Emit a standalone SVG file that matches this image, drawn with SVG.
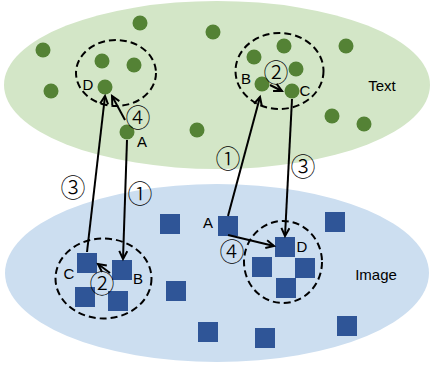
<svg xmlns="http://www.w3.org/2000/svg" width="430" height="370" viewBox="0 0 430 370">
<defs>
<style>
.dot{fill:#548235}
.sq{fill:#2f5597}
.lbl{font-family:"Liberation Sans",Arial,sans-serif;font-size:15px;fill:#000;text-anchor:middle}
.num{font-family:"Noto Sans CJK SC","DejaVu Sans",sans-serif;font-size:25px;font-weight:300;fill:#000;text-anchor:middle;dominant-baseline:central}
.dash{fill:none;stroke:#000;stroke-width:2;stroke-dasharray:7 4}
.edge{fill:none;stroke:#000;stroke-width:2;marker-end:url(#ah)}
</style>
<marker id="ah" markerUnits="userSpaceOnUse" markerWidth="12" markerHeight="12" refX="9" refY="5" orient="auto">
<path d="M1,1 L9,5 L1,9" fill="none" stroke="#000" stroke-width="2"/>
</marker>
</defs>
<g id="text-space">
<ellipse cx="217" cy="85" rx="213" ry="84" fill="#d3e6c7"/>
<text class="lbl" x="382" y="91">Text</text>
</g>
<g id="image-space">
<ellipse cx="217" cy="273" rx="212" ry="89" fill="#ccdef0"/>
<text class="lbl" x="376" y="280">Image</text>
</g>
<g id="text-dots">
<circle class="dot" cx="43" cy="50" r="7.5"/>
<circle class="dot" cx="140" cy="23" r="7.5"/>
<circle class="dot" cx="213" cy="32" r="7.5"/>
<circle class="dot" cx="102" cy="61" r="7.5"/>
<circle class="dot" cx="134" cy="65" r="7.5"/>
<circle class="dot" cx="51" cy="91" r="7.5"/>
<circle class="dot" cx="197" cy="130" r="7.5"/>
<circle class="dot" cx="254" cy="57" r="7.5"/>
<circle class="dot" cx="284" cy="46" r="7.5"/>
<circle class="dot" cx="346" cy="46" r="7.5"/>
<circle class="dot" cx="296" cy="69" r="7.5"/>
<circle class="dot" cx="332" cy="116" r="7.5"/>
<circle class="dot" cx="364" cy="124" r="7.5"/>
</g>
<g id="text-D"><circle class="dot" cx="105" cy="87" r="7.5"/><text class="lbl" x="88" y="90">D</text></g>
<g id="text-A"><circle class="dot" cx="127" cy="132" r="7.5"/><text class="lbl" x="142" y="147">A</text></g>
<g id="text-B"><circle class="dot" cx="262" cy="84" r="7.5"/><text class="lbl" x="246" y="84">B</text></g>
<g id="text-C"><circle class="dot" cx="292" cy="91" r="7.5"/><text class="lbl" x="305" y="96">C</text></g>
<g id="image-squares">
<rect class="sq" x="160" y="214" width="20" height="20"/>
<rect class="sq" x="75" y="287" width="20" height="20"/>
<rect class="sq" x="108" y="291" width="20" height="20"/>
<rect class="sq" x="166" y="281" width="20" height="20"/>
<rect class="sq" x="198" y="322" width="20" height="20"/>
<rect class="sq" x="325" y="212" width="20" height="20"/>
<rect class="sq" x="252" y="257" width="20" height="20"/>
<rect class="sq" x="295" y="258" width="20" height="20"/>
<rect class="sq" x="276" y="278" width="20" height="20"/>
<rect class="sq" x="337" y="316" width="20" height="20"/>
<rect class="sq" x="255" y="328" width="20" height="20"/>
</g>
<g id="image-C"><rect class="sq" x="77" y="253" width="20" height="20"/><text class="lbl" x="69" y="279">C</text></g>
<g id="image-B"><rect class="sq" x="112" y="260" width="20" height="20"/><text class="lbl" x="138" y="284">B</text></g>
<g id="image-A"><rect class="sq" x="218" y="216" width="20" height="20"/><text class="lbl" x="208" y="228">A</text></g>
<g id="image-D"><rect class="sq" x="275" y="237" width="20" height="20"/><text class="lbl" x="302" y="252">D</text></g>
<g id="neighbourhoods">
<ellipse class="dash" cx="116" cy="73" rx="40" ry="33"/>
<ellipse class="dash" cx="279.5" cy="71" rx="44" ry="38"/>
<ellipse class="dash" cx="103.5" cy="278.5" rx="48" ry="40"/>
<ellipse class="dash" cx="283" cy="262" rx="39" ry="41"/>
</g>
<g id="connectors">
<line class="edge" x1="125" y1="120" x2="112" y2="96"/>
<line class="edge" x1="87" y1="252" x2="105" y2="96"/>
<line class="edge" x1="127" y1="140" x2="123" y2="259"/>
<line class="edge" x1="228" y1="216" x2="260" y2="97"/>
<line class="edge" x1="292" y1="99" x2="285" y2="236"/>
<line class="edge" x1="270" y1="85" x2="282" y2="91"/>
<line class="edge" x1="110" y1="273" x2="98" y2="264"/>
<line class="edge" x1="228" y1="235" x2="274" y2="246"/>
<text class="num" x="138" y="116">④</text>
<text class="num" x="276" y="71">②</text>
<text class="num" x="228" y="157">①</text>
<text class="num" x="303" y="165">③</text>
<text class="num" x="73" y="186">③</text>
<text class="num" x="140" y="192">①</text>
<text class="num" x="102" y="282">②</text>
<text class="num" x="232" y="250">④</text>
</g>
</svg>
